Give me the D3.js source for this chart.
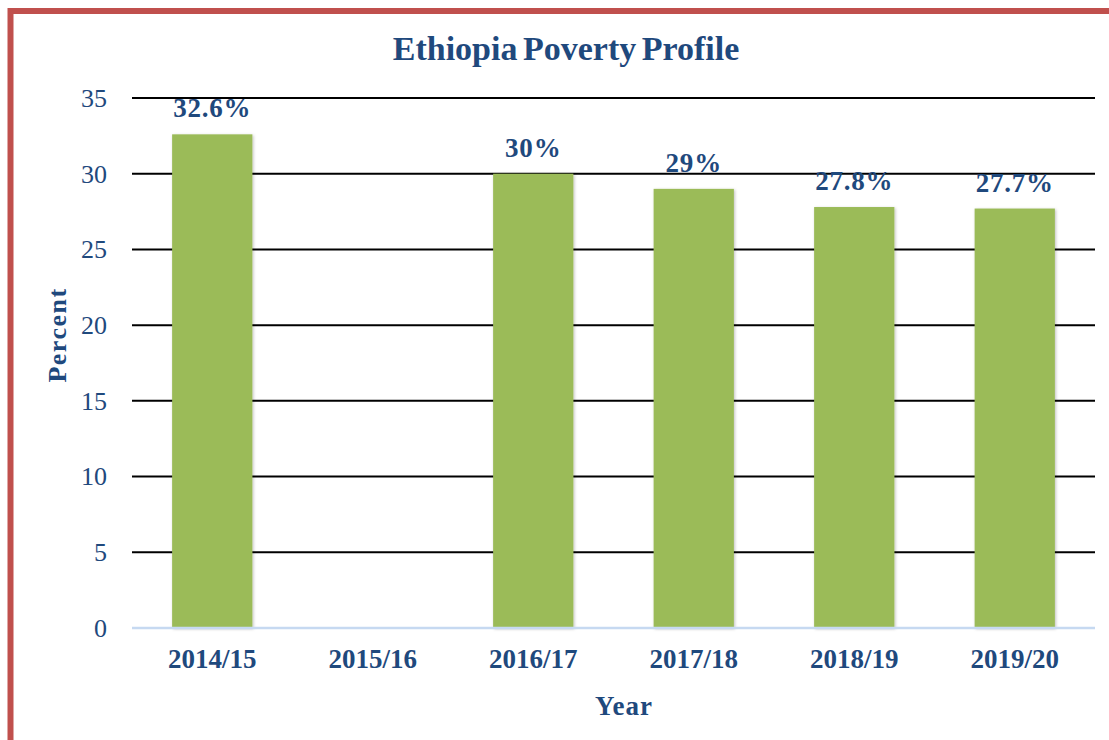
<!DOCTYPE html>
<html><head><meta charset="utf-8">
<script src="https://cdn.jsdelivr.net/npm/d3@7"></script>
<style>body{margin:0;background:#fff}svg{display:block}</style>
</head><body>
<svg id="c" width="1109" height="740"></svg>
<script>
const categories = ["2014/15","2015/16","2016/17","2017/18","2018/19","2019/20"];
const values = [32.6, null, 30, 29, 27.8, 27.7];
const valueLabels = ["32.6%", "", "30%", "29%", "27.8%", "27.7%"];
const yTicks = [0,5,10,15,20,25,30,35];
const title = "Ethiopia Poverty Profile";

const svg = d3.select("#c");
const m = {left:132, right:1095, top:98, bottom:628};
const textColor = "#1F497D";
const font = "Liberation Serif";

// border
svg.append("rect").attr("x",10.5).attr("y",11).attr("width",1200).attr("height",900)
  .attr("fill","#fff").attr("stroke","#C0504D").attr("stroke-width",6);

const x = d3.scaleBand().domain(categories).range([m.left,m.right]).paddingInner(0.5).paddingOuter(0.25);
const y = d3.scaleLinear().domain([0,35]).range([m.bottom,m.top]);

const defs = svg.append("defs");
const f = defs.append("filter").attr("id","sh").attr("x","-20%").attr("y","-20%").attr("width","140%").attr("height","140%");
f.append("feDropShadow").attr("dx",1).attr("dy",1).attr("stdDeviation",1.5).attr("flood-color","#000").attr("flood-opacity",0.25);

// gridlines
svg.append("g").selectAll("line").data(yTicks.filter(d=>d>0)).join("line")
  .attr("x1",m.left).attr("x2",m.right)
  .attr("y1",d=>y(d)).attr("y2",d=>y(d))
  .attr("stroke","#000").attr("stroke-width",2);

// bars
const data = categories.map((c,i)=>({c, v:values[i], l:valueLabels[i]})).filter(d=>d.v!=null);
svg.append("g").selectAll("rect").data(data).join("rect")
  .attr("x",d=>x(d.c)).attr("width",x.bandwidth())
  .attr("y",d=>y(d.v)).attr("height",d=>y(0)-y(d.v))
  .attr("fill","#9BBB59").attr("filter","url(#sh)");

// zero axis line
svg.append("line").attr("x1",m.left).attr("x2",m.right).attr("y1",y(0)).attr("y2",y(0))
  .attr("stroke","#C6D9F1").attr("stroke-width",2.5);

// y axis labels
const yAxis = d3.axisLeft(y).tickValues(yTicks).tickSize(0).tickPadding(0);
const ya = svg.append("g").attr("transform",`translate(107,0)`).call(yAxis);
ya.select(".domain").remove();
ya.selectAll("text").style("font-family",font).style("font-size","26px").attr("fill",textColor);

// x axis labels
const xAxis = d3.axisBottom(x).tickSize(0).tickPadding(0);
const xa = svg.append("g").attr("transform",`translate(0,${m.bottom})`).call(xAxis);
xa.select(".domain").remove();
xa.selectAll("text").attr("dy",null).attr("y",40).style("font-family",font).style("font-size","27px")
  .style("font-weight","bold").attr("fill",textColor);

// value labels
svg.append("g").selectAll("text").data(data).join("text")
  .attr("x",d=>x(d.c)+x.bandwidth()/2).attr("y",d=>y(d.v)-17)
  .attr("text-anchor","middle").style("font-family",font).style("font-size","27px")
  .style("font-weight","bold").attr("fill",textColor).style("letter-spacing","0.8px")
  .text(d=>d.l);

// title
svg.append("text").attr("x",566).attr("y",60).attr("text-anchor","middle")
  .style("font-family",font).style("font-size","34px").style("font-weight","bold")
  .attr("fill",textColor).style("word-spacing","-3px").text(title);

// axis titles
svg.append("text").attr("transform","translate(66,335) rotate(-90)").attr("text-anchor","middle")
  .style("font-family",font).style("font-size","26px").style("font-weight","bold")
  .attr("fill",textColor).style("letter-spacing","1.5px").text("Percent");
svg.append("text").attr("x",624).attr("y",715).attr("text-anchor","middle")
  .style("font-family",font).style("font-size","27px").style("font-weight","bold")
  .attr("fill",textColor).style("letter-spacing","1px").text("Year");
</script>
</body></html>
